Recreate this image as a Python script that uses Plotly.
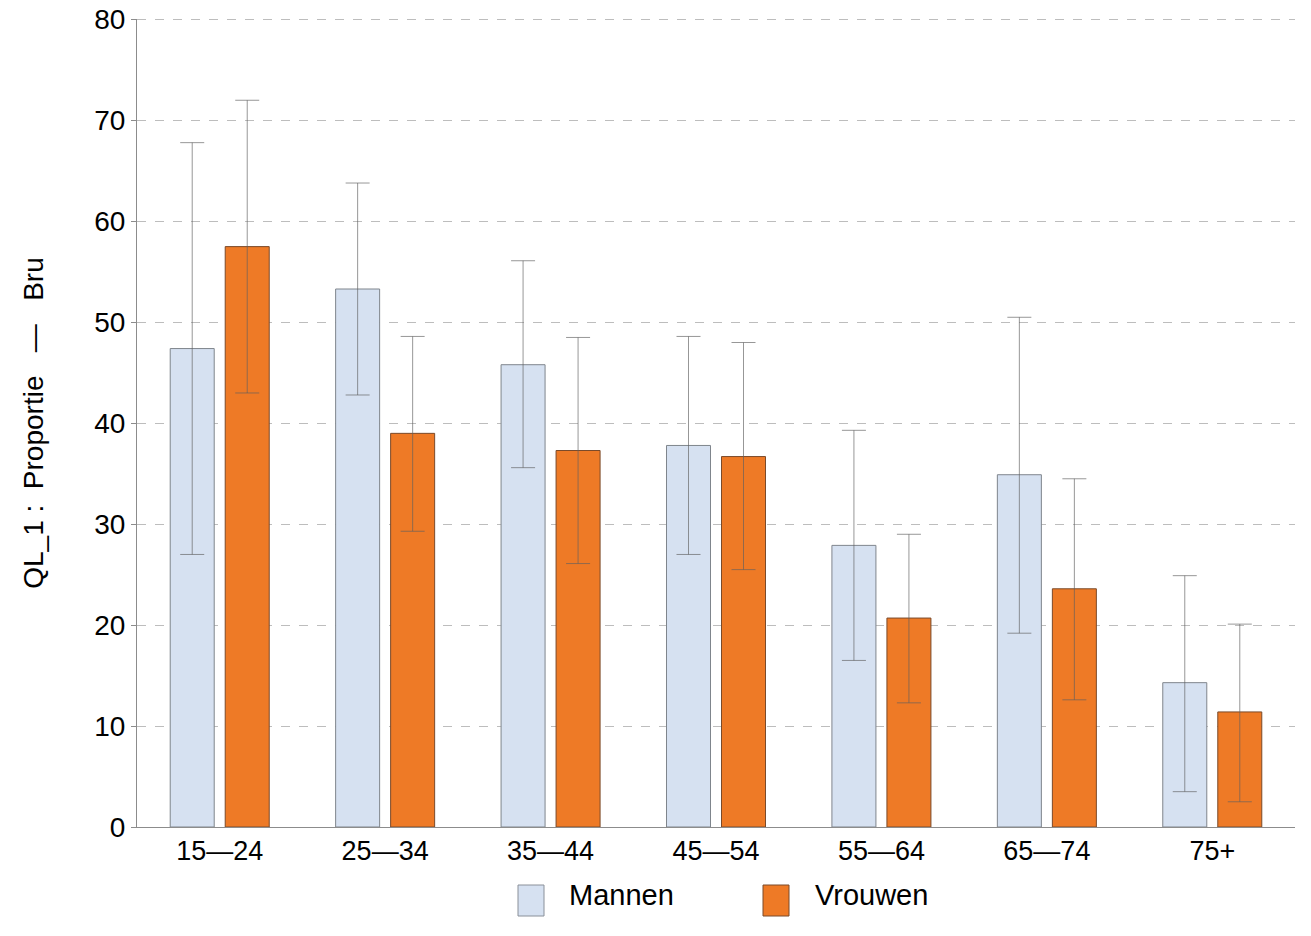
import plotly.graph_objects as go

categories = ["15\u201424", "25\u201434", "35\u201444", "45\u201454", "55\u201464", "65\u201474", "75+"]
mannen = [47.4, 53.3, 45.8, 37.8, 27.9, 34.9, 14.3]
mannen_low = [27.0, 42.8, 35.6, 27.0, 16.5, 19.2, 3.5]
mannen_high = [67.8, 63.8, 56.1, 48.6, 39.3, 50.5, 24.9]
vrouwen = [57.5, 39.0, 37.3, 36.7, 20.7, 23.6, 11.4]
vrouwen_low = [43.0, 29.3, 26.1, 25.5, 12.3, 12.6, 2.5]
vrouwen_high = [72.0, 48.6, 48.5, 48.0, 29.0, 34.5, 20.1]
y_ticks = [0, 10, 20, 30, 40, 50, 60, 70, 80]
series_names = ["Mannen", "Vrouwen"]
series_colors = ["#D6E1F1", "#EE7A26"]
series_edges = ["#7F858C", "#7A4A2A"]

FONT = "Liberation Sans, Arial, sans-serif"
err_color = "rgba(95,95,95,0.65)"
GRID = "#BDBDBD"

W, H = 1311, 936
ML, MR, MT, MB = 137, 16, 19, 109
PW, PH = W - ML - MR, H - MT - MB


def err(vals, lo, hi):
    return dict(type="data", symmetric=False,
                array=[h - v for v, h in zip(vals, hi)],
                arrayminus=[v - l for v, l in zip(vals, lo)],
                color=err_color, thickness=1, width=12)


fig = go.Figure()
for name, vals, lo, hi, col, edge in [
    (series_names[0], mannen, mannen_low, mannen_high, series_colors[0], series_edges[0]),
    (series_names[1], vrouwen, vrouwen_low, vrouwen_high, series_colors[1], series_edges[1]),
]:
    fig.add_trace(go.Bar(x=categories, y=vals, name=name, showlegend=False,
                         marker=dict(color=col, line=dict(color=edge, width=1)),
                         error_y=err(vals, lo, hi)))


def px_x(p):
    return (p - ML) / PW


def px_y(p):
    return (H - MB - p) / PH


# top gridline (plotly drops the grid line lying on the plot edge)
fig.add_shape(type="line", xref="paper", yref="y", x0=0, x1=1, y0=y_ticks[-1], y1=y_ticks[-1],
              line=dict(color=GRID, width=1, dash="dash"), layer="above")

# legend drawn manually (large swatches)
legend_items = [(518, 567), (763, 813)]
for (sx, tx), name, col, edge in zip(legend_items, series_names, series_colors, series_edges):
    fig.add_shape(type="rect", xref="paper", yref="paper",
                  x0=px_x(sx), x1=px_x(sx + 26), y0=px_y(916), y1=px_y(885),
                  fillcolor=col, line=dict(color=edge if name == "Vrouwen" else "#8A9099", width=1))
    fig.add_annotation(xref="paper", yref="paper", x=px_x(tx), y=px_y(895),
                       xanchor="left", yanchor="middle", showarrow=False,
                       text=name, font=dict(size=29, color="black", family=FONT))

fig.update_layout(
    width=W, height=H,
    margin=dict(l=ML, r=MR, t=MT, b=MB, autoexpand=False),
    paper_bgcolor="white", plot_bgcolor="white",
    barmode="group", bargap=0.335, bargroupgap=0.2,
    font=dict(family=FONT, size=24, color="black"),
    showlegend=False,
    xaxis=dict(range=[-0.5, 6.5], showline=True, linecolor="#8C8C8C", linewidth=1,
               ticks="", tickfont=dict(size=27), showgrid=False, zeroline=False, automargin=False),
    yaxis=dict(range=[0, 80.05], tickvals=y_ticks, showline=True, linecolor="#8C8C8C", linewidth=1,
               ticks="outside", ticklen=5, tickcolor="#8C8C8C", tickfont=dict(size=28),
               ticklabeloverflow="allow",
               showgrid=True, gridcolor=GRID, griddash="dash", gridwidth=1,
               zeroline=False, layer="above traces", automargin=False,
               title=dict(text="QL_1 :  Proportie   \u2014   Bru", font=dict(size=28), standoff=42)),
)

fig.write_html("out.html", config={"displayModeBar": False},
               post_script="document.body.style.margin='0px';document.body.style.overflow='hidden';")
